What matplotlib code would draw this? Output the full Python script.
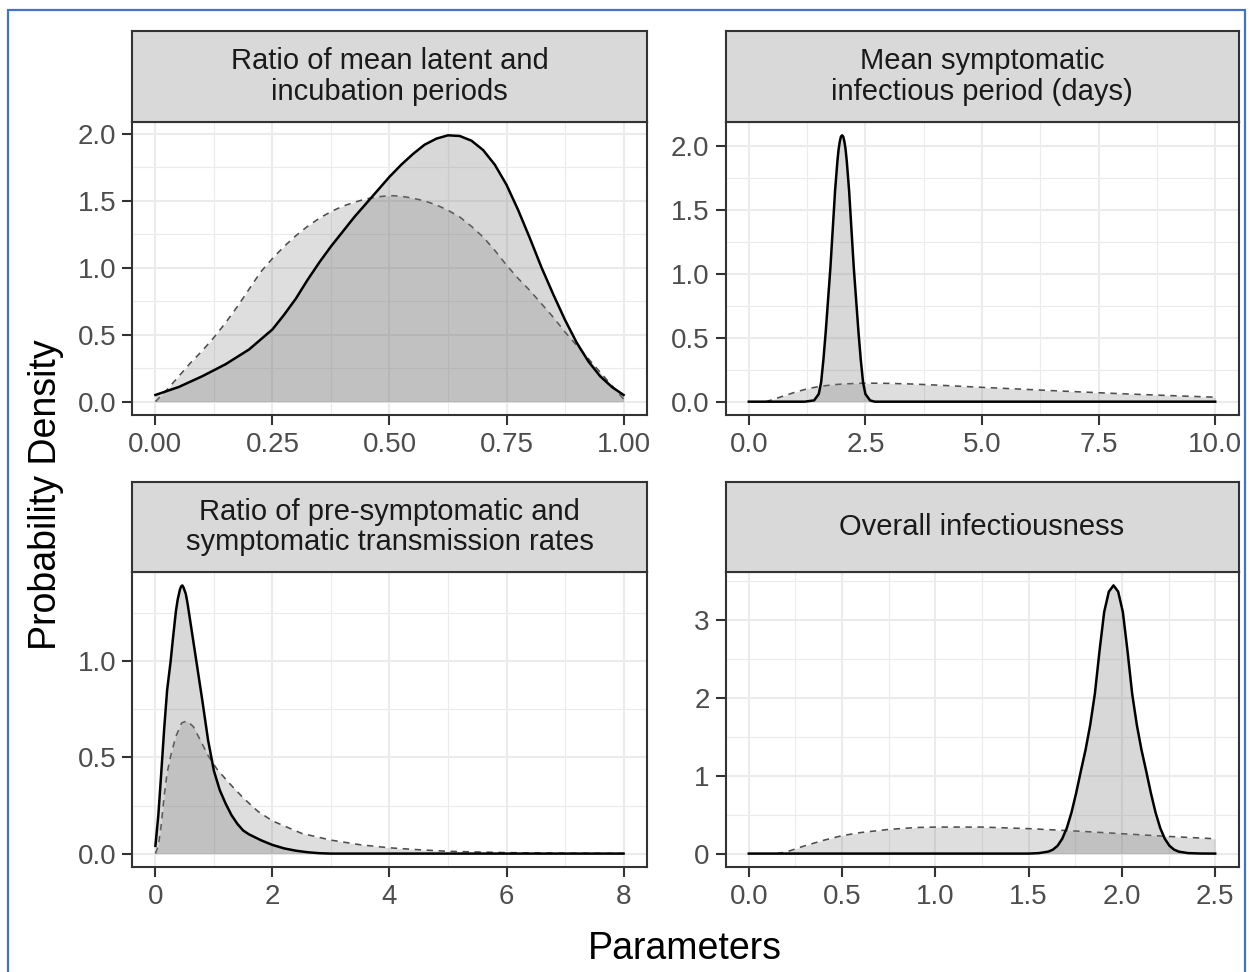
import numpy as np
import matplotlib.pyplot as plt
from matplotlib.patches import Rectangle
from matplotlib.ticker import FixedLocator

plt.rcParams['font.family'] = ['Liberation Sans', 'DejaVu Sans']

# ── Data (prior = dashed, posterior = solid) ────────────────────────────────

# Ratio of mean latent and incubation periods
latent_prior_x = [0.0, 0.025, 0.05, 0.075, 0.10, 0.125, 0.15, 0.175, 0.20, 0.225,
                  0.25, 0.275, 0.30, 0.325, 0.35, 0.375, 0.40, 0.425, 0.45, 0.475,
                  0.50, 0.525, 0.55, 0.575, 0.60, 0.625, 0.65, 0.675, 0.70, 0.725,
                  0.75, 0.775, 0.80, 0.825, 0.85, 0.875, 0.90, 0.925, 0.95, 0.975,
                  1.0]
latent_prior_y = [0.0, 0.09, 0.19, 0.29, 0.38, 0.48, 0.59, 0.71, 0.84, 0.97,
                  1.07, 1.16, 1.24, 1.31, 1.37, 1.42, 1.46, 1.49, 1.515, 1.53,
                  1.54, 1.535, 1.52, 1.50, 1.47, 1.43, 1.38, 1.31, 1.23, 1.13,
                  1.02, 0.92, 0.83, 0.73, 0.63, 0.52, 0.42, 0.32, 0.22, 0.12,
                  0.02]
latent_post_x = [0.0, 0.05, 0.10, 0.15, 0.20, 0.25, 0.275, 0.30, 0.325, 0.35, 0.375,
                 0.40, 0.425, 0.45, 0.475, 0.50, 0.525, 0.55, 0.575, 0.60, 0.625,
                 0.65, 0.675, 0.70, 0.725, 0.75, 0.775, 0.80, 0.825, 0.85, 0.875,
                 0.90, 0.925, 0.95, 0.975, 1.0]
latent_post_y = [0.05, 0.11, 0.19, 0.28, 0.39, 0.54, 0.65, 0.77, 0.91, 1.04, 1.16,
                 1.27, 1.38, 1.48, 1.58, 1.68, 1.77, 1.85, 1.92, 1.965, 1.99,
                 1.985, 1.95, 1.88, 1.77, 1.62, 1.43, 1.22, 1.00, 0.80, 0.61,
                 0.44, 0.30, 0.19, 0.11, 0.05]

# Mean symptomatic infectious period (days)
period_prior_x = [0.36, 0.5, 0.75, 1.0, 1.25, 1.5, 1.75, 2.0, 2.5, 3.0, 3.5, 4.0,
                  5.0, 6.0, 7.0, 8.0, 9.0, 10.0]
period_prior_y = [0.0, 0.015, 0.045, 0.075, 0.10, 0.118, 0.13, 0.138, 0.145, 0.143,
                  0.138, 0.13, 0.112, 0.095, 0.078, 0.062, 0.048, 0.035]
period_post_x = [0.0, 1.2, 1.4, 1.5, 1.55, 1.6, 1.65, 1.7, 1.75, 1.8, 1.85, 1.9,
                 1.925, 1.95, 1.975, 2.0, 2.025, 2.05, 2.075, 2.1, 2.15, 2.2, 2.25,
                 2.3, 2.35, 2.4, 2.45, 2.5, 2.6, 2.7, 10.0]
period_post_y = [0.0, 0.0, 0.01, 0.06, 0.15, 0.33, 0.55, 0.80, 1.05, 1.35, 1.65, 1.88,
                 1.97, 2.03, 2.07, 2.08, 2.07, 2.03, 1.97, 1.88, 1.65, 1.35, 1.05,
                 0.80, 0.55, 0.33, 0.15, 0.06, 0.01, 0.0, 0.0]

# Ratio of pre-symptomatic and symptomatic transmission rates
ratio_prior_x = [0.0, 0.05, 0.10, 0.15, 0.20, 0.27, 0.35, 0.45, 0.54, 0.65, 0.75,
                 0.90, 1.05, 1.25, 1.5, 1.75, 2.0, 2.5, 3.0, 3.5, 4.0, 4.5, 5.0, 6.0,
                 7.0, 8.0]
ratio_prior_y = [0.0, 0.04, 0.15, 0.30, 0.42, 0.52, 0.61, 0.68, 0.69, 0.66, 0.60,
                 0.51, 0.44, 0.37, 0.29, 0.22, 0.17, 0.105, 0.07, 0.046, 0.03, 0.02,
                 0.012, 0.005, 0.002, 0.001]
ratio_post_x = [0.0, 0.05, 0.10, 0.15, 0.20, 0.26, 0.30, 0.35, 0.38, 0.42, 0.44, 0.46,
                0.48, 0.52, 0.55, 0.60, 0.70, 0.80, 0.90, 1.0, 1.1, 1.2, 1.3, 1.4,
                1.5, 1.6, 1.8, 2.0, 2.2, 2.4, 2.6, 2.8, 3.0, 8.0]
ratio_post_y = [0.04, 0.20, 0.42, 0.65, 0.85, 1.0, 1.12, 1.26, 1.32, 1.375, 1.39,
                1.395, 1.385, 1.35, 1.30, 1.20, 1.0, 0.80, 0.59, 0.43, 0.33, 0.26,
                0.20, 0.155, 0.12, 0.10, 0.07, 0.045, 0.027, 0.015, 0.007, 0.002,
                0.0, 0.0]

# Overall infectiousness
infect_prior_x = [0.15, 0.2, 0.3, 0.4, 0.5, 0.6, 0.75, 0.9, 1.0, 1.1, 1.25, 1.5,
                  1.75, 2.0, 2.25, 2.5]
infect_prior_y = [0.0, 0.02, 0.10, 0.17, 0.23, 0.27, 0.31, 0.335, 0.34, 0.34, 0.34,
                  0.32, 0.29, 0.255, 0.22, 0.19]
infect_post_x = [0.0, 1.5, 1.555, 1.605, 1.63, 1.655, 1.68, 1.705, 1.73, 1.755,
                 1.78, 1.805, 1.83, 1.855, 1.88, 1.905, 1.93, 1.955, 1.98, 2.005,
                 2.03, 2.055, 2.08, 2.105, 2.13, 2.155, 2.18, 2.205, 2.23, 2.255,
                 2.28, 2.305, 2.355, 2.42, 2.5]
infect_post_y = [0.0, 0.0, 0.006, 0.025, 0.05, 0.10, 0.19, 0.33, 0.53, 0.78,
                 1.06, 1.33, 1.65, 2.05, 2.6, 3.1, 3.36, 3.44, 3.36, 3.1,
                 2.6, 2.05, 1.65, 1.33, 1.06, 0.78, 0.53, 0.33, 0.19, 0.10,
                 0.05, 0.025, 0.006, 0.001, 0.0]

titles = ['Ratio of mean latent and\nincubation periods',
          'Mean symptomatic\ninfectious period (days)',
          'Ratio of pre-symptomatic and\nsymptomatic transmission rates',
          'Overall infectiousness']

# ── Style ───────────────────────────────────────────────────────────────────

W, H = 1250, 972
FILL = '#7F7F7F'
GRID = '#EBEBEB'
DARK = '#333333'


def fig_rect(x0, y0, x1, y1):
    """Pixel box (top-left origin) -> figure fraction rect."""
    return [x0 / W, 1 - y1 / H, (x1 - x0) / W, (y1 - y0) / H]


panels = [
    dict(title=titles[0], prior=(latent_prior_x, latent_prior_y),
         post=(latent_post_x, latent_post_y),
         xt=[0, 0.25, 0.5, 0.75, 1.0], xfmt='{:.2f}',
         xm=[0.125, 0.375, 0.625, 0.875],
         yt=[0, 0.5, 1.0, 1.5, 2.0], yfmt='{:.1f}', ym=[0.25, 0.75, 1.25, 1.75],
         box=(132, 122, 647, 415), strip=(132, 31, 647, 122)),
    dict(title=titles[1], prior=(period_prior_x, period_prior_y),
         post=(period_post_x, period_post_y),
         xt=[0, 2.5, 5, 7.5, 10], xfmt='{:.1f}', xm=[1.25, 3.75, 6.25, 8.75],
         yt=[0, 0.5, 1.0, 1.5, 2.0], yfmt='{:.1f}', ym=[0.25, 0.75, 1.25, 1.75],
         box=(725.5, 122, 1238.5, 415), strip=(725.5, 31, 1238.5, 122)),
    dict(title=titles[2], prior=(ratio_prior_x, ratio_prior_y),
         post=(ratio_post_x, ratio_post_y),
         xt=[0, 2, 4, 6, 8], xfmt='{:.0f}', xm=[1, 3, 5, 7],
         yt=[0, 0.5, 1.0], yfmt='{:.1f}', ym=[0.25, 0.75, 1.25],
         box=(132, 572, 647, 867), strip=(132, 482, 647, 572)),
    dict(title=titles[3], prior=(infect_prior_x, infect_prior_y),
         post=(infect_post_x, infect_post_y),
         xt=[0, 0.5, 1.0, 1.5, 2.0, 2.5], xfmt='{:.1f}',
         xm=[0.25, 0.75, 1.25, 1.75, 2.25],
         yt=[0, 1, 2, 3], yfmt='{:.0f}', ym=[0.5, 1.5, 2.5, 3.5],
         box=(725.5, 572, 1238.5, 867), strip=(725.5, 482, 1238.5, 572)),
]

fig = plt.figure(figsize=(W / 100, H / 100), dpi=100)

for p in panels:
    ax = fig.add_axes(fig_rect(*p['box']))
    px, py = p['prior']
    qx, qy = p['post']

    # prior first, posterior drawn over it
    ax.fill_between(px, 0, py, color=FILL, alpha=0.25, lw=0, zorder=2)
    ax.plot(px, py, color='#4D4D4D', lw=1.15, ls=(0, (4, 3.5)), zorder=3)
    ax.fill_between(qx, 0, qy, color=FILL, alpha=0.30, lw=0, zorder=4)
    ax.plot(qx, qy, color='black', lw=1.8, zorder=5, solid_joinstyle='round')

    # ggplot-like 5% expansion
    xmin = min(min(px), min(qx))
    xmax = max(max(px), max(qx))
    ymax = max(max(py), max(qy))
    dx = (xmax - xmin) * 0.05
    ax.set_xlim(xmin - dx, xmax + dx)
    ax.set_ylim(-ymax * 0.05, ymax * 1.05)

    ax.set_xticks(p['xt'])
    ax.set_xticklabels([p['xfmt'].format(v) for v in p['xt']])
    ax.set_yticks(p['yt'])
    ax.set_yticklabels([p['yfmt'].format(v) for v in p['yt']])
    ax.xaxis.set_minor_locator(FixedLocator(p['xm']))
    ax.yaxis.set_minor_locator(FixedLocator(p['ym']))

    ax.grid(which='major', color=GRID, lw=1.5, zorder=0)
    ax.grid(which='minor', color=GRID, lw=0.8, zorder=0)
    ax.set_axisbelow(True)
    ax.tick_params(which='major', length=7.5, width=1.5, color=DARK,
                   labelsize=20, labelcolor='#4D4D4D')
    ax.tick_params(axis='x', pad=5)
    ax.tick_params(axis='y', pad=4)
    ax.tick_params(which='minor', length=0)
    for s in ax.spines.values():
        s.set_color(DARK)
        s.set_linewidth(1.5)
        s.set_zorder(6)

    # facet strip
    sa = fig.add_axes(fig_rect(*p['strip']))
    sa.set_facecolor('#D9D9D9')
    sa.set_xticks([])
    sa.set_yticks([])
    for s in sa.spines.values():
        s.set_color(DARK)
        s.set_linewidth(1.5)
    sa.text(0.5, 0.5, p['title'], ha='center', va='center', fontsize=21,
            color='#1A1A1A', linespacing=1.1, transform=sa.transAxes)

fig.text(46 / W, 1 - 494.5 / H, 'Probability Density', rotation=90,
         ha='center', va='center', fontsize=27)
fig.text(685 / W, 1 - 959 / H, 'Parameters', ha='center', va='baseline',
         fontsize=27)

# blue frame around the figure
fig.patches.append(Rectangle((8 / W, -0.02), (1245 - 8) / W, 1.02 - 10.5 / H,
                             transform=fig.transFigure, fill=False,
                             edgecolor='#4472C4', lw=1.6))

fig.savefig('out.png', dpi=100)
